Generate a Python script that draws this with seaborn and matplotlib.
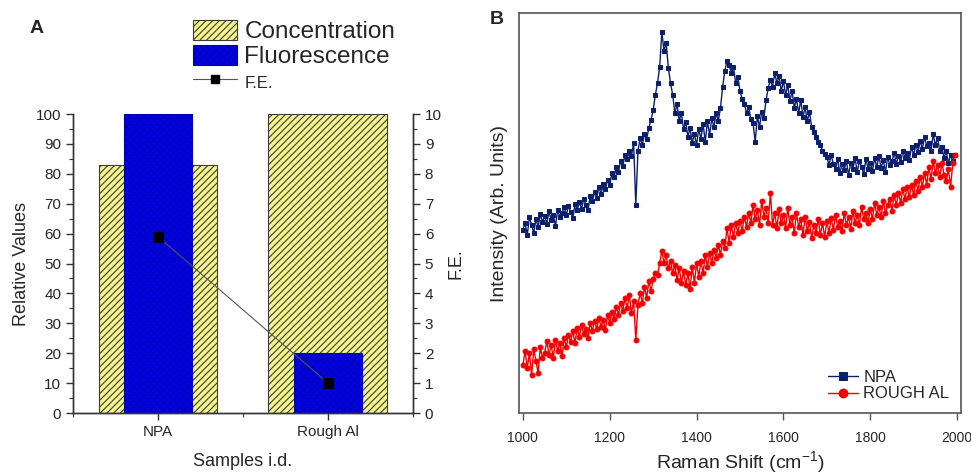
import numpy as np
import matplotlib
matplotlib.use('Agg')
import matplotlib.pyplot as plt
import seaborn as sns
from matplotlib.patches import Patch
from matplotlib.lines import Line2D
from matplotlib.ticker import MultipleLocator

# ---------------- Panel A data ----------------
samples = ['NPA', 'Rough Al']
concentration = [83, 100]
fluorescence = [100, 20]
fe = [5.9, 1.0]

# ---------------- Panel B data ----------------
raman_shift = np.arange(1000, 2000, 5)
npa = [
    183, 190, 178, 196, 188, 180, 194, 186, 199, 191, 197, 189, 202, 193, 198, 187, 203, 196, 200, 206,
    198, 207, 201, 195, 209, 203, 211, 204, 214, 208, 203, 217, 212, 221, 215, 226, 219, 229, 224, 233,
    228, 240, 236, 246, 241, 252, 247, 258, 254, 262, 257, 270, 208, 262, 275, 268, 279, 274, 285, 293,
    303, 318, 330, 346, 381, 362, 370, 345, 330, 318, 300, 309, 292, 300, 284, 291, 276, 285, 270, 279,
    268, 284, 274, 289, 271, 292, 278, 295, 286, 300, 292, 305, 326, 342, 352, 348, 340, 346, 330, 336,
    322, 314, 309, 300, 306, 294, 290, 271, 297, 286, 301, 295, 313, 325, 333, 326, 340, 330, 337, 322,
    332, 318, 328, 312, 322, 305, 314, 300, 313, 296, 306, 292, 301, 286, 281, 276, 271, 268, 262, 259,
    256, 248, 258, 249, 244, 254, 240, 249, 243, 252, 238, 250, 244, 255, 241, 252, 246, 239, 254, 244,
    250, 242, 255, 246, 257, 245, 253, 241, 256, 248, 252, 260, 249, 257, 251, 262, 255, 260, 253, 266,
    258, 268, 261, 272, 264, 276, 267, 270, 262, 279, 268, 275, 262, 266, 255, 262, 250, 258, 252, 258,
]
rough_al = [
    48, 62, 45, 60, 38, 64, 52, 40, 66, 55, 60, 72, 58, 68, 55, 73, 62, 70, 57, 75,
    66, 78, 71, 82, 70, 85, 76, 88, 79, 84, 75, 90, 82, 92, 84, 95, 86, 93, 83, 98,
    90, 101, 94, 106, 98, 110, 102, 115, 105, 118, 100, 112, 73, 108, 120, 110, 126, 115, 132, 122,
    134, 140, 138, 150, 162, 150, 158, 145, 152, 140, 148, 133, 145, 130, 142, 128, 140, 124, 146, 130,
    150, 136, 152, 140, 158, 146, 160, 150, 163, 155, 168, 158, 172, 165, 185, 170, 188, 176, 190, 180,
    192, 182, 196, 186, 200, 190, 208, 194, 203, 188, 212, 196, 205, 190, 220, 188, 200, 185, 204, 190,
    198, 185, 205, 188, 196, 180, 200, 186, 194, 178, 196, 182, 191, 175, 188, 180, 194, 178, 190, 176,
    192, 180, 195, 183, 198, 186, 192, 182, 200, 188, 196, 184, 202, 190, 198, 188, 206, 194, 200, 190,
    204, 194, 210, 198, 206, 196, 212, 200, 208, 214, 202, 218, 208, 220, 210, 224, 214, 226, 216, 228,
    218, 232, 222, 236, 226, 240, 228, 246, 234, 252, 240, 248, 236, 250, 238, 232, 244, 226, 250, 258,
]

yellow = '#f4f48e'
yellow_edge = '#3c3c30'
blue = '#0000ee'
blue_edge = '#0000b0'
fe_color = '#555555'
npa_color = '#0c1f6c'
rough_color = '#f20000'

sns.set_style('ticks')
plt.rcParams['font.family'] = ['Liberation Sans', 'DejaVu Sans']
plt.rcParams['mathtext.default'] = 'regular'
plt.rcParams['hatch.linewidth'] = 0.8

fig = plt.figure(figsize=(9.71, 4.75), dpi=100)
axA = fig.add_axes([0.0752, 0.1305, 0.3501, 0.6295])
axB = fig.add_axes([0.5345, 0.1305, 0.4552, 0.8421])

# ---------------- Panel A ----------------
sns.barplot(x=samples, y=concentration, ax=axA, width=0.7, color=yellow,
            edgecolor=yellow_edge, hatch='/////', linewidth=0.8, saturation=1,
            errorbar=None)
sns.barplot(x=samples, y=fluorescence, ax=axA, width=0.4, color=blue,
            edgecolor=blue_edge, hatch='xxxxx', linewidth=0.8, saturation=1,
            errorbar=None)
axA.set_ylim(0, 100)
axA.yaxis.set_major_locator(MultipleLocator(10))
axA.yaxis.set_minor_locator(MultipleLocator(5))
axA.set_ylabel('Relative Values', fontsize=13)
axA.set_xlabel('Samples i.d.', fontsize=13, labelpad=10)
axA.tick_params(axis='both', labelsize=11, length=5, width=1, color='#333333')
axA.tick_params(axis='y', which='minor', length=3, width=0.8, color='#333333')
axA.spines['top'].set_visible(False)

axA2 = axA.twinx()
sns.lineplot(x=np.arange(len(samples)), y=fe, ax=axA2, color=fe_color,
             linewidth=0.8, marker='s', markersize=7, markerfacecolor='black',
             markeredgecolor='black')
axA2.set_ylim(0, 10)
axA2.yaxis.set_major_locator(MultipleLocator(1))
axA2.yaxis.set_minor_locator(MultipleLocator(0.5))
axA2.set_ylabel('F.E.', fontsize=13)
axA2.tick_params(axis='y', labelsize=11, length=5, width=1, color='#333333')
axA2.tick_params(axis='y', which='minor', length=3, width=0.8, color='#333333')
axA2.spines['top'].set_visible(False)
axA.set_xlim(-0.5, 1.5)
axA.set_xticks([0, 1])
axA.set_xticklabels(samples)
axA.xaxis.set_minor_locator(MultipleLocator(0.5))
axA.tick_params(axis='x', which='minor', length=3, width=0.8, color='#333333')
for ax in (axA, axA2):
    for s in ax.spines.values():
        s.set_color('#333333')
        s.set_linewidth(1)

handles = [
    Patch(facecolor=yellow, edgecolor=yellow_edge, hatch='/////', linewidth=0.8),
    Patch(facecolor=blue, edgecolor=blue_edge, hatch='xxxxx', linewidth=0.8),
    Line2D([], [], color=fe_color, linewidth=0.8, marker='s', markersize=6,
           markerfacecolor='black', markeredgecolor='black'),
]
legA = fig.legend(handles, ['Concentration', 'Fluorescence', 'F.E.'],
                  loc='upper left', bbox_to_anchor=(0.199, 0.958),
                  frameon=False, fontsize=17.5, handlelength=1.8,
                  handleheight=0.9, handletextpad=0.3, labelspacing=0.05,
                  borderpad=0, borderaxespad=0)
legA.get_texts()[2].set_fontsize(12)

fig.text(0.038, 0.941, 'A', fontsize=14, fontweight='bold', ha='center', va='center')

# ---------------- Panel B ----------------
sns.lineplot(x=raman_shift, y=npa, ax=axB, color=npa_color, linewidth=1,
             marker='s', markersize=3.5, markeredgecolor=npa_color,
             markerfacecolor=npa_color, label='NPA')
sns.lineplot(x=raman_shift, y=rough_al, ax=axB, color=rough_color, linewidth=1,
             marker='o', markersize=3.5, markeredgecolor=rough_color,
             markerfacecolor=rough_color, label='ROUGH AL')
axB.set_xlim(991, 2009)
axB.set_ylim(0, 400)
axB.set_xticks(np.arange(1000, 2001, 200))
axB.set_yticks([])
axB.tick_params(axis='x', labelsize=10, length=5, width=1, color='#555555', pad=8)
axB.set_xlabel('Raman Shift (cm$^{-1}$)', fontsize=14, labelpad=3)
axB.set_ylabel('Intensity (Arb. Units)', fontsize=14, labelpad=8)
for s in axB.spines.values():
    s.set_color('#555555')
    s.set_linewidth(1.2)
axB.legend(loc='lower right', frameon=False, fontsize=12, handlelength=1.8,
           handletextpad=0.3, labelspacing=0.1, borderaxespad=0.3,
           markerscale=1.8)

fig.text(0.512, 0.958, 'B', fontsize=14, fontweight='bold', ha='center', va='center')

fig.savefig('out.png', dpi=100)
